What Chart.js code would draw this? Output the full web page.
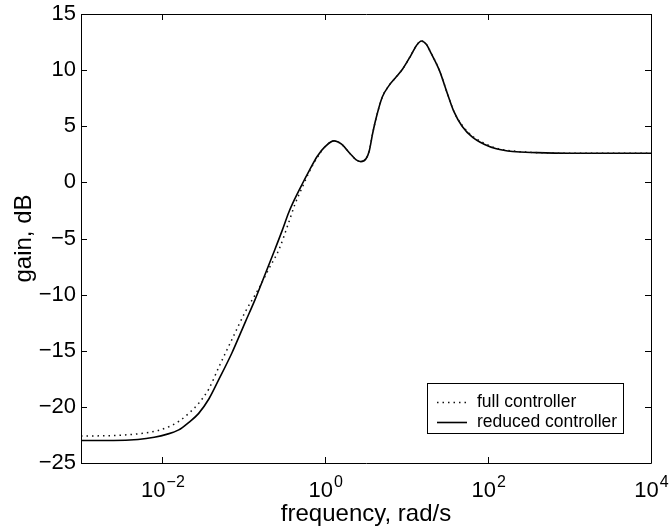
<!DOCTYPE html>
<html>
<head>
<meta charset="utf-8">
<script src="https://cdn.jsdelivr.net/npm/chart.js@4.4.1/dist/chart.umd.min.js"></script>
<style>
html,body{margin:0;padding:0;background:#fff;}
#wrap{width:669px;height:531px;}
</style>
</head>
<body>
<div id="wrap"><canvas id="c" width="669" height="531"></canvas></div>
<script>
// ---- data (log10 of frequency in rad/s, gain in dB) ----
const logFreqFull = [-3,-2.6,-2.3,-2.05,-1.9,-1.8,-1.68,-1.557,-1.43,-1.31,-1.147,-0.98,-0.82,-0.7,-0.57,-0.45,-0.37,-0.28,-0.2,-0.1,0,0.107,0.2,0.3,0.38,0.436,0.5,0.54,0.58,0.62,0.7,0.78,0.86,0.95,1.05,1.12,1.18,1.24,1.3,1.4,1.5,1.58,1.68,1.81,1.95,2.1,2.3,2.6,3,4];
const gainFull = [-22.6,-22.55,-22.4,-22.1,-21.7,-21.3,-20.6,-19.7,-18.4,-16.5,-14.0,-11.5,-9.5,-7.8,-6.0,-3.6,-1.9,-0.4,0.9,2.2,3.2,3.7,3.4,2.6,2.0,1.85,2.1,2.8,4.3,5.6,7.6,8.6,9.3,10.1,11.3,12.2,12.6,12.3,11.5,10.0,7.9,6.3,5.1,4.1,3.5,3.05,2.8,2.65,2.6,2.6];
const logFreqReduced = [-3,-2.6,-2.3,-2.1,-1.95,-1.8,-1.68,-1.557,-1.43,-1.31,-1.147,-0.98,-0.86,-0.74,-0.62,-0.53,-0.45,-0.37,-0.28,-0.2,-0.1,0,0.107,0.2,0.3,0.38,0.436,0.5,0.54,0.58,0.62,0.7,0.78,0.86,0.95,1.05,1.12,1.18,1.24,1.3,1.4,1.5,1.58,1.68,1.81,1.95,2.1,2.3,2.6,3,4];
const gainReduced = [-23.0,-23.0,-22.9,-22.7,-22.45,-22.05,-21.4,-20.6,-19.3,-17.6,-15.2,-12.4,-10.4,-8.2,-6.0,-4.3,-2.7,-1.4,-0.1,1.0,2.3,3.2,3.7,3.4,2.6,2.0,1.85,2.1,2.8,4.3,5.6,7.6,8.6,9.3,10.1,11.3,12.2,12.6,12.3,11.5,10.0,7.9,6.3,5.0,4.0,3.4,3.0,2.75,2.65,2.6,2.6];
const xTickExponents = [-2, 0, 2, 4];
const xTickLabels = ['10^-2', '10^0', '10^2', '10^4'];
const yTickValues = [-25,-20,-15,-10,-5,0,5,10,15];
const seriesLabels = ['full controller', 'reduced controller'];

const FONT = "'Liberation Sans', Arial, Helvetica, sans-serif";
const toPoints = (lf, g) => lf.map((l, i) => ({x: Math.pow(10, l), y: g[i]}));

const framePlugin = {
  id: 'frame',
  afterDatasetsDraw(chart) {
    const ctx = chart.ctx, a = chart.chartArea;
    const xs = chart.scales.x, ys = chart.scales.y;
    const L = 6;
    ctx.save();
    ctx.strokeStyle = '#000';
    ctx.lineWidth = 1;
    ctx.beginPath();
    ctx.rect(Math.round(a.left) + 0.5, Math.round(a.top) + 0.5, Math.round(a.right - a.left), Math.round(a.bottom - a.top));
    ctx.stroke();
    ctx.beginPath();
    xs.ticks.forEach(t => {
      const px = Math.round(xs.getPixelForValue(t.value)) + 0.5;
      ctx.moveTo(px, a.bottom); ctx.lineTo(px, a.bottom - L);
      ctx.moveTo(px, a.top); ctx.lineTo(px, a.top + L);
    });
    ys.ticks.forEach(t => {
      const py = Math.round(ys.getPixelForValue(t.value)) + 0.5;
      ctx.moveTo(a.left, py); ctx.lineTo(a.left + L, py);
      ctx.moveTo(a.right, py); ctx.lineTo(a.right - L, py);
    });
    ctx.stroke();

    // x tick labels with superscript exponents
    ctx.fillStyle = '#000';
    ctx.textBaseline = 'alphabetic';
    ctx.textAlign = 'left';
    xs.ticks.forEach((t, i) => {
      const [base, exp] = xTickLabels[i].split('^');
      const e = exp.replace('-', '\u2212');
      ctx.font = '22px ' + FONT;
      const wb = ctx.measureText(base).width;
      ctx.font = '16px ' + FONT;
      const we = ctx.measureText(e).width;
      const px = xs.getPixelForValue(t.value);
      const x0 = px - (wb + we) / 2;
      ctx.font = '22px ' + FONT;
      ctx.fillText(base, x0, 497);
      ctx.font = '16px ' + FONT;
      ctx.fillText(e, x0 + wb + 1, 487);
    });

    // legend box
    const bx = 427, by = 383, bw = 196, bh = 50;
    ctx.fillStyle = '#fff';
    ctx.fillRect(bx, by, bw, bh);
    ctx.strokeRect(bx + 0.5, by + 0.5, bw, bh);
    ctx.font = '17.5px ' + FONT;
    ctx.textBaseline = 'middle';
    ctx.fillStyle = '#000';
    const rows = [402, 422];
    chart.data.datasets.forEach((ds, i) => {
      const y = rows[i];
      ctx.save();
      ctx.strokeStyle = ds.borderColor;
      ctx.lineWidth = ds.borderWidth;
      ctx.setLineDash(ds.borderDash || []);
      ctx.beginPath();
      ctx.moveTo(437, y + 0.5); ctx.lineTo(467, y + 0.5);
      ctx.stroke();
      ctx.restore();
      ctx.fillText(ds.label, 477, y);
    });
    ctx.restore();
  }
};

new Chart(document.getElementById('c'), {
  type: 'line',
  data: {
    datasets: [
      { label: seriesLabels[0], data: toPoints(logFreqFull, gainFull), borderColor: '#111', borderWidth: 1.5, borderDash: [1.5, 4], pointRadius: 0, cubicInterpolationMode: 'monotone', fill: false },
      { label: seriesLabels[1], data: toPoints(logFreqReduced, gainReduced), borderColor: '#000', borderWidth: 1.6, pointRadius: 0, cubicInterpolationMode: 'monotone', fill: false }
    ]
  },
  options: {
    responsive: false,
    animation: false,
    events: [],
    layout: { padding: { top: 14, right: 18, left: 0, bottom: 0 } },
    plugins: { legend: { display: false }, tooltip: { enabled: false } },
    scales: {
      x: {
        type: 'logarithmic', min: 1e-3, max: 1e4,
        afterBuildTicks: s => { s.ticks = xTickExponents.map(e => ({ value: Math.pow(10, e) })); },
        afterFit: s => { s.height = 68; },
        ticks: { display: false },
        grid: { display: false, drawTicks: false },
        border: { display: false },
        title: { display: true, text: 'frequency, rad/s', color: '#000', font: { family: FONT, size: 24 }, padding: { top: 0, bottom: 2 } }
      },
      y: {
        min: -25, max: 15,
        afterBuildTicks: s => { s.ticks = yTickValues.map(v => ({ value: v })); },
        afterFit: s => { s.width = 81; s.paddingTop = 0; s.paddingBottom = 0; },
        ticks: { callback: v => String(v).replace('-', '\u2212'), color: '#000', font: { family: FONT, size: 22 }, padding: 5 },
        grid: { display: false, drawTicks: false },
        border: { display: false },
        title: { display: true, text: 'gain, dB', color: '#000', font: { family: FONT, size: 24 }, padding: { top: 10, bottom: 0 } }
      }
    }
  },
  plugins: [framePlugin]
});
</script>
</body>
</html>
